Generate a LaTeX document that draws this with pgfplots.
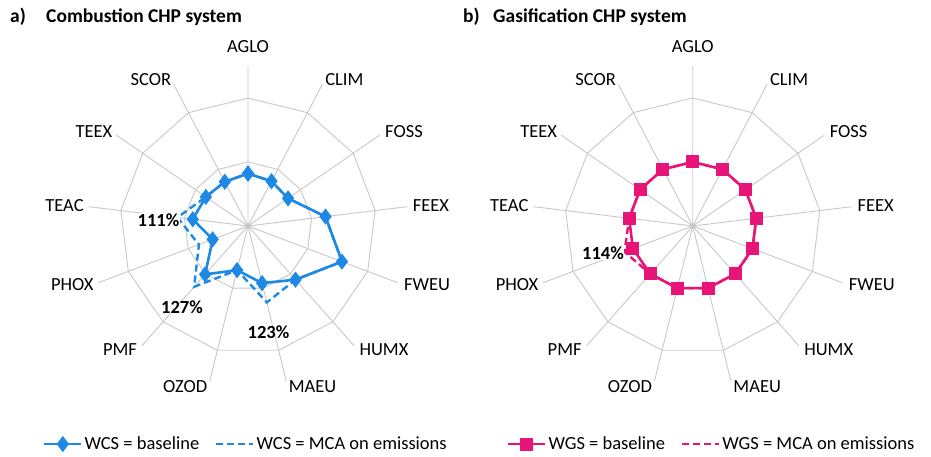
\documentclass[border=0pt]{standalone}
\usepackage{fontspec}
\setmainfont{Carlito}
\usepackage{pgfplots}
\usepackage{pgfplotstable}
\pgfplotsset{compat=1.18}
\usepgfplotslibrary{polar}
\definecolor{wcs}{RGB}{29,137,228}
\definecolor{wgs}{RGB}{232,21,120}
\definecolor{gridc}{RGB}{200,200,200}
\newcommand{\lblfont}{\fontsize{18.5}{22}\selectfont}
\newcommand{\labR}[3]{\makebox[0pt][l]{\raisebox{#2}[0pt][0pt]{\hspace*{#1}#3}}}
\newcommand{\labL}[3]{\makebox[0pt][r]{\raisebox{#2}[0pt][0pt]{#3\hspace*{#1}}}}
\newcommand{\labC}[2]{\makebox[0pt]{\raisebox{#1}[0pt][0pt]{#2}}}

\pgfplotstableread{
ang r1 r2
90 1 2
62.3077 1 2
34.6154 1 2
6.9231 1 2
339.2308 1 2
311.5385 1 2
283.8462 1 2
256.1538 1 2
228.4615 1 2
200.7692 1 2
173.0769 1 2
145.3846 1 2
117.6923 1 2
90 1 2
}\ringtab

% categories: AGLO CLIM FOSS FEEX FWEU HUMX MAEU OZOD PMF PHOX TEAC TEEX SCOR
\pgfplotstableread{
ang base mca
90 0.82 0.82
62.3077 0.79 0.79
34.6154 0.76 0.76
6.9231 1.22 1.22
339.2308 1.57 1.57
311.5385 1.12 1.12
283.8462 0.92 1.23
256.1538 0.71 0.71
228.4615 1.01 1.27
200.7692 0.59 0.82
173.0769 0.87 1.11
145.3846 0.80 0.80
117.6923 0.78 0.78
90 0.82 0.82
}\wcstab

\pgfplotstableread{
ang base mca
90 1.00 1.00
62.3077 1.00 1.00
34.6154 1.00 1.00
6.9231 1.00 1.00
339.2308 1.00 1.00
311.5385 1.00 1.00
283.8462 1.00 1.00
256.1538 1.00 1.00
228.4615 1.00 1.00
200.7692 1.00 1.14
173.0769 1.00 1.00
145.3846 1.00 1.00
117.6923 1.00 1.00
90 1.00 1.00
}\wgstab

\pgfplotsset{radar/.style={
  at={#1}, anchor=origin,
  width=320pt, height=320pt, scale only axis,
  xmin=0, xmax=360, ymin=0, ymax=2.5,
  xtick={6.9231,34.6154,62.3077,90,117.6923,145.3846,173.0769,200.7692,228.4615,256.1538,283.8462,311.5385,339.2308},
  xticklabels={{\labR{6pt}{-5.2pt}{FEEX}},{\labR{5.5pt}{-2pt}{FOSS}},{\labR{3pt}{-0.7pt}{CLIM}},{\labC{13pt}{AGLO}},{\labL{2.5pt}{-0.7pt}{SCOR}},{\labL{4pt}{-2pt}{TEEX}},{\labL{5.5pt}{-5.2pt}{TEAC}},{\labL{5pt}{-7.8pt}{PHOX}},{\labL{5pt}{-9.7pt}{PMF}},{\labL{2.5pt}{-11.2pt}{OZOD}},{\labR{2.5pt}{-11.2pt}{MAEU}},{\labR{5.5pt}{-9.7pt}{HUMX}},{\labR{6.5pt}{-7.8pt}{FWEU}}},
  ytick=\empty,
  xmajorgrids=true, ymajorgrids=false,
  major grid style={draw=gridc, line width=0.9pt},
  axis line style={draw=none},
  major tick length=0pt,
  xticklabel style={anchor=center, inner sep=0pt, font=\lblfont},
  clip=false,
  legend columns=2,
  legend cell align=left,
  legend style={draw=none, fill=none, inner sep=0pt, outer sep=0pt, anchor=west, font=\lblfont, nodes={inner sep=2pt}, /tikz/every even column/.append style={column sep=14pt}},
  legend image code/.code={\draw[mark repeat=2, mark phase=2, ##1] plot coordinates {(0pt,0pt) (18.5pt,0pt) (37pt,0pt)};},
}}

\begin{document}
\begin{tikzpicture}
\useasboundingbox (0,0) rectangle (931pt,457pt);

\begin{polaraxis}[radar={(248pt,231pt)}, legend style={at={(-0.1406,-0.1813)}}]
\addplot[draw=gridc, line width=0.9pt, forget plot] table[x=ang, y=r1] {\ringtab};
\addplot[draw=gridc, line width=0.9pt, forget plot] table[x=ang, y=r2] {\ringtab};
\addplot[wcs, line width=2.6pt, mark=diamond*, mark size=6pt, mark options={solid}] table[x=ang, y=base] {\wcstab};
\addlegendentry{WCS = baseline}
\addplot[wcs, line width=2.4pt, dash pattern=on 7pt off 4pt] table[x=ang, y=mca] {\wcstab};
\addlegendentry{WCS = MCA on emissions}
\end{polaraxis}

\begin{polaraxis}[radar={(692.7pt,231pt)}, legend style={at={(-0.0803,-0.1813)}}]
\addplot[draw=gridc, line width=0.9pt, forget plot] table[x=ang, y=r1] {\ringtab};
\addplot[draw=gridc, line width=0.9pt, forget plot] table[x=ang, y=r2] {\ringtab};
\addplot[wgs, line width=2.6pt, mark=square*, mark size=5.2pt, mark options={solid}] table[x=ang, y=base] {\wgstab};
\addlegendentry{WGS = baseline}
\addplot[wgs, line width=2.4pt, dash pattern=on 7pt off 4pt] table[x=ang, y=mca] {\wgstab};
\addlegendentry{WGS = MCA on emissions}
\end{polaraxis}

\node[anchor=base west, inner sep=0pt, font=\fontsize{19.5}{22}\selectfont\bfseries] at (10pt,434pt) {a)};
\node[anchor=base west, inner sep=0pt, font=\fontsize{19.5}{22}\selectfont\bfseries] at (46pt,434pt) {Combustion CHP system};
\node[anchor=base west, inner sep=0pt, font=\fontsize{19.5}{22}\selectfont\bfseries] at (463pt,434pt) {b)};
\node[anchor=base west, inner sep=0pt, font=\fontsize{19.5}{22}\selectfont\bfseries] at (493pt,434pt) {Gasification CHP system};

\node[fill=white, inner sep=0.5pt, font=\lblfont\bfseries] at (158.5pt,237pt) {111\%};
\node[inner sep=0.5pt, font=\lblfont\bfseries] at (182pt,150pt) {127\%};
\node[inner sep=0.5pt, font=\lblfont\bfseries] at (268.5pt,125pt) {123\%};
\node[fill=white, inner sep=0.5pt, font=\lblfont\bfseries] at (603pt,204pt) {114\%};
\end{tikzpicture}
\end{document}
